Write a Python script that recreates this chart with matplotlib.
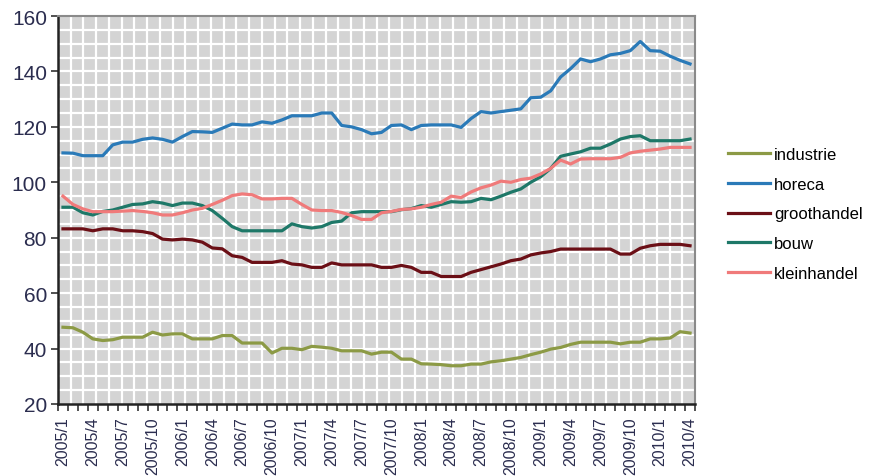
import numpy as np
import matplotlib
matplotlib.use("Agg")
import matplotlib.pyplot as plt

# maanden 2005/1 .. 2010/4
months = [f"{y}/{m}" for y in range(2005, 2011) for m in range(1, 13)][:64]

industrie = [47.7, 47.5, 45.9, 43.5, 42.9, 43.2, 44.1, 44.1, 44.1, 45.9, 44.9, 45.3, 45.3, 43.5, 43.5, 43.5,
             44.7, 44.7, 42.0, 42.0, 42.0, 38.4, 40.1, 40.1, 39.6, 40.8, 40.5, 40.1, 39.2, 39.2, 39.2, 38.0,
             38.7, 38.7, 36.2, 36.2, 34.5, 34.4, 34.2, 33.8, 33.8, 34.4, 34.4, 35.2, 35.6, 36.2, 36.8, 37.8,
             38.7, 39.8, 40.4, 41.5, 42.3, 42.3, 42.3, 42.3, 41.7, 42.3, 42.3, 43.5, 43.5, 43.8, 46.1, 45.6]
horeca = [110.6, 110.5, 109.6, 109.6, 109.6, 113.5, 114.5, 114.5, 115.5, 116.0, 115.5, 114.5, 116.5, 118.3, 118.2, 118.0,
          119.5, 121.0, 120.7, 120.7, 121.8, 121.3, 122.5, 124.0, 124.0, 124.0, 125.0, 125.0, 120.5, 120.0, 119.0, 117.5,
          118.0, 120.5, 120.7, 119.0, 120.5, 120.7, 120.7, 120.7, 119.8, 123.0, 125.5, 125.0, 125.5, 126.0, 126.5, 130.5,
          130.7, 133.0, 138.0, 141.0, 144.5, 143.5, 144.5, 146.0, 146.5, 147.5, 150.8, 147.5, 147.3, 145.5, 144.0, 142.7]
groothandel = [83.2, 83.2, 83.2, 82.5, 83.2, 83.2, 82.5, 82.5, 82.2, 81.5, 79.5, 79.2, 79.5, 79.2, 78.4, 76.3,
               76.0, 73.5, 72.9, 71.1, 71.1, 71.1, 71.7, 70.5, 70.2, 69.3, 69.3, 70.9, 70.2, 70.2, 70.2, 70.2,
               69.3, 69.3, 70.0, 69.3, 67.5, 67.5, 66.0, 66.0, 66.0, 67.5, 68.5, 69.5, 70.5, 71.7, 72.3, 73.8,
               74.5, 75.0, 75.9, 75.9, 75.9, 75.9, 75.9, 75.9, 74.1, 74.1, 76.2, 77.1, 77.6, 77.6, 77.6, 77.1]
bouw = [91.0, 91.0, 89.0, 88.2, 89.5, 90.0, 91.0, 92.0, 92.2, 93.0, 92.5, 91.6, 92.5, 92.5, 91.6, 89.8,
        87.0, 84.0, 82.5, 82.5, 82.5, 82.5, 82.5, 85.0, 84.0, 83.5, 84.0, 85.5, 86.0, 89.0, 89.4, 89.4,
        89.4, 89.4, 90.1, 90.5, 91.6, 91.0, 92.0, 93.0, 92.8, 93.0, 94.2, 93.7, 95.0, 96.4, 97.6, 100.0,
        102.0, 105.0, 109.4, 110.2, 111.0, 112.3, 112.3, 113.8, 115.6, 116.5, 116.8, 115.0, 115.0, 115.0, 115.0, 115.6]
kleinhandel = [95.0, 92.0, 90.4, 89.4, 89.4, 89.4, 89.6, 89.8, 89.5, 89.0, 88.2, 88.2, 89.0, 90.0, 90.6, 92.0,
               93.5, 95.2, 95.8, 95.5, 94.0, 94.0, 94.2, 94.2, 92.0, 90.0, 89.8, 89.8, 89.1, 88.0, 86.6, 86.6,
               89.0, 89.5, 90.2, 90.4, 91.0, 92.0, 92.8, 95.0, 94.5, 96.5, 98.0, 99.0, 100.4, 100.0, 101.0, 101.5,
               103.0, 105.0, 108.0, 106.6, 108.4, 108.5, 108.5, 108.5, 109.0, 110.6, 111.2, 111.6, 112.0, 112.6, 112.6, 112.6]

series = [("industrie", industrie, "#8c9a45"),
          ("horeca", horeca, "#2a7ab8"),
          ("groothandel", groothandel, "#6b0f16"),
          ("bouw", bouw, "#1e7868"),
          ("kleinhandel", kleinhandel, "#f07a7a")]

plt.rcParams['font.family'] = ['Liberation Sans', 'DejaVu Sans']
txt = "#2b2d4f"

fig = plt.figure(figsize=(8.71, 4.77), dpi=100)
ax = fig.add_axes([58 / 871, 1 - 405 / 477, 637 / 871, 388 / 477])
ax.set_facecolor("#d4d4d4")

x = np.arange(len(months))
ax.set_xlim(-0.5, len(months) - 0.5)
ax.set_ylim(20, 160)

# achtergrondraster (patroon)
for gx in np.linspace(-0.5, len(months) - 0.5, 51)[1:-1]:
    ax.axvline(gx, color="white", lw=1.6, zorder=1)
for gy in np.arange(25, 160, 5):
    ax.axhline(gy, color="white", lw=1.6, zorder=1)

for name, vals, col in series:
    ax.plot(x, vals, color=col, lw=2.3, label=name, zorder=3, solid_joinstyle="round")

ax.set_yticks(np.arange(20, 161, 20))
ax.tick_params(axis="y", labelsize=15, labelcolor=txt, length=5, width=1.2, color="#333333", pad=3)
ax.set_xticks(x[::3])
ax.set_xticklabels(months[::3], rotation=90, fontsize=11.5, color=txt)
ax.set_xticks(np.arange(-0.5, len(months), 1), minor=True)
ax.tick_params(axis="x", which="major", length=0, pad=9)
ax.tick_params(axis="x", which="minor", length=5, width=1.2, color="#333333")

for s in ["left", "bottom"]:
    ax.spines[s].set_color("#222222")
    ax.spines[s].set_linewidth(1.8)
for s in ["top", "right"]:
    ax.spines[s].set_color("#8a8a8a")
    ax.spines[s].set_linewidth(1.5)

fig.legend(loc="upper left", bbox_to_anchor=(728 / 871, 1 - 148 / 477), frameon=False,
           fontsize=12, handlelength=2.5, handletextpad=0.25, labelspacing=0.88,
           borderpad=0, borderaxespad=0)

fig.savefig("out.png", dpi=100)
